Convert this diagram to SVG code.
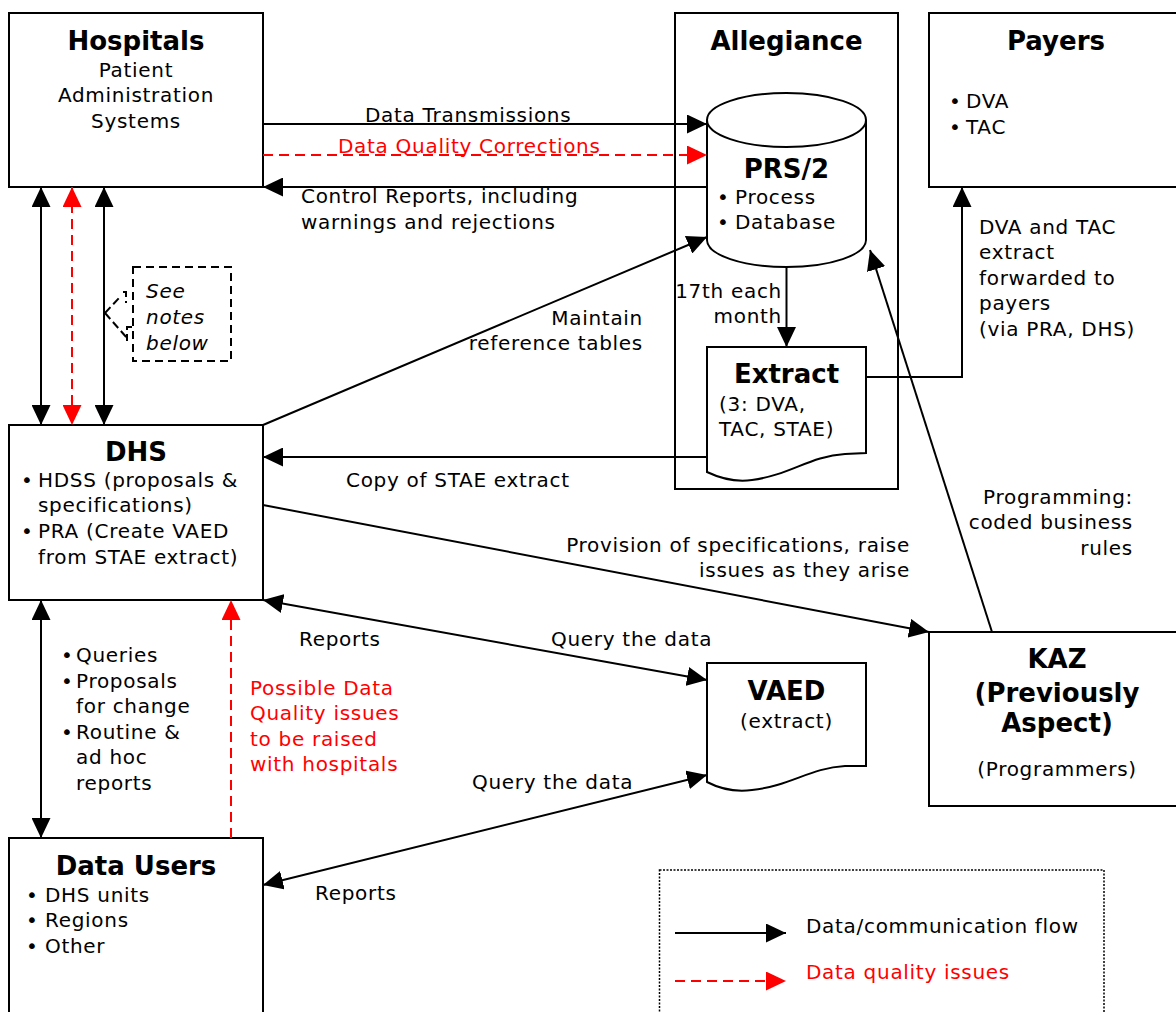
<svg xmlns="http://www.w3.org/2000/svg" width="1176" height="1012" viewBox="0 0 1176 1012">
<defs>
<style>
.t{font-family:"DejaVu Sans",Verdana,sans-serif;font-size:20px;letter-spacing:0.7px;fill:#000}
.b{font-family:"DejaVu Sans",Verdana,sans-serif;font-size:26px;font-weight:bold;fill:#000}
.r{fill:#ff0000}
.m{text-anchor:middle}
.e{text-anchor:end}
.i{font-style:italic}
.box{fill:#fff;stroke:#000;stroke-width:2}
.ln{fill:none;stroke:#000;stroke-width:2}
.rd{fill:none;stroke:#ff0000;stroke-width:2;stroke-dasharray:10 6}
</style>
<marker id="ah" viewBox="0 0 20 19" refX="20" refY="9.5" markerWidth="20" markerHeight="19" markerUnits="userSpaceOnUse" orient="auto-start-reverse"><path d="M0,0 L20,9.5 L0,19 z" fill="#000"/></marker>
<marker id="ahr" viewBox="0 0 20 19" refX="20" refY="9.5" markerWidth="20" markerHeight="19" markerUnits="userSpaceOnUse" orient="auto-start-reverse"><path d="M0,0 L20,9.5 L0,19 z" fill="#ff0000"/></marker>
</defs>
<rect width="1176" height="1012" fill="#fff"/>

<g id="allegiance">
<rect class="box" x="675" y="13" width="223" height="476"/>
<text class="b m" x="786.5" y="50">Allegiance</text>
</g>

<g id="hospitals">
<rect class="box" x="9" y="13" width="254" height="174"/>
<text class="b m" x="136" y="50">Hospitals</text>
<text class="t m" x="136" y="77">Patient</text>
<text class="t m" x="136" y="102">Administration</text>
<text class="t m" x="136" y="128">Systems</text>
</g>

<g id="payers">
<rect class="box" x="929" y="13" width="260" height="174"/>
<text class="b m" x="1056" y="50">Payers</text>
<text class="t" x="949" y="108">•</text><text class="t" x="966" y="108">DVA</text>
<text class="t" x="949" y="134">•</text><text class="t" x="966" y="134">TAC</text>
</g>

<g id="prs2">
<path class="box" d="M707,120 L707,240 A79.5,27 0 0 0 866,240 L866,120"/>
<ellipse class="box" cx="786.5" cy="120" rx="79.5" ry="27"/>
<text class="b m" x="786.5" y="178">PRS/2</text>
<text class="t" x="717" y="204">•</text><text class="t" x="735" y="204">Process</text>
<text class="t" x="717" y="229">•</text><text class="t" x="735" y="229">Database</text>
</g>

<g id="extract">
<path class="box" d="M707,347 L866,347 L866,453 L845,454 C810,456 790,475 752,480 Q730,483 707,472 Z"/>
<text class="b m" x="786.5" y="383">Extract</text>
<text class="t" x="719" y="411">(3: DVA,</text>
<text class="t" x="719" y="436">TAC, STAE)</text>
</g>

<g id="notes">
<rect x="133" y="267" width="98" height="94" fill="none" stroke="#000" stroke-width="2" stroke-dasharray="8 5"/>
<path d="M105,313 L120,297 M123,292 L126,292 L126,303 M105,313 L127,338 M132,327 L127,327 L127,341" fill="none" stroke="#000" stroke-width="2" stroke-dasharray="8 4"/>
<text class="t i" x="146" y="298">See</text>
<text class="t i" x="146" y="324">notes</text>
<text class="t i" x="146" y="350">below</text>
</g>

<g id="dhs">
<rect class="box" x="9" y="425" width="254" height="175"/>
<text class="b m" x="136" y="461">DHS</text>
<text class="t" x="21" y="487">•</text><text class="t" x="38" y="487">HDSS (proposals &amp;</text>
<text class="t" x="38" y="512">specifications)</text>
<text class="t" x="21" y="538">•</text><text class="t" x="38" y="538">PRA (Create VAED</text>
<text class="t" x="38" y="564">from STAE extract)</text>
</g>

<g id="vaed">
<path class="box" d="M707,663 L866,663 L866,766 L845,766 C810,768 790,786 752,790 Q728,793 707,782 Z"/>
<text class="b m" x="786.5" y="700">VAED</text>
<text class="t m" x="786.5" y="728">(extract)</text>
</g>

<g id="kaz">
<rect class="box" x="929" y="632" width="260" height="174"/>
<text class="b m" x="1057" y="668">KAZ</text>
<text class="b m" x="1057" y="702">(Previously</text>
<text class="b m" x="1057" y="732">Aspect)</text>
<text class="t m" x="1057" y="776">(Programmers)</text>
</g>

<g id="datausers">
<rect class="box" x="9" y="838" width="254" height="190"/>
<text class="b m" x="136" y="875">Data Users</text>
<text class="t" x="26" y="902">•</text><text class="t" x="45" y="902">DHS units</text>
<text class="t" x="26" y="927">•</text><text class="t" x="45" y="927">Regions</text>
<text class="t" x="26" y="953">•</text><text class="t" x="45" y="953">Other</text>
</g>

<g id="connectors">
<line class="ln" x1="263" y1="124" x2="707" y2="124" marker-end="url(#ah)"/>
<line class="rd" x1="263" y1="155" x2="707" y2="155" marker-end="url(#ahr)"/>
<line class="ln" x1="707" y1="187" x2="263" y2="187" marker-end="url(#ah)"/>
<line class="ln" x1="263" y1="425" x2="707" y2="237" marker-end="url(#ah)"/>
<line class="ln" x1="786.5" y1="267" x2="786.5" y2="347" marker-end="url(#ah)"/>
<polyline class="ln" points="866,377 962,377 962,187" marker-end="url(#ah)"/>
<line class="ln" x1="707" y1="457" x2="263" y2="457" marker-end="url(#ah)"/>
<line class="ln" x1="263" y1="505" x2="929" y2="632" marker-end="url(#ah)"/>
<line class="ln" x1="992" y1="632" x2="870" y2="250" marker-end="url(#ah)"/>
<line class="ln" x1="263" y1="600" x2="707" y2="680" marker-start="url(#ah)" marker-end="url(#ah)"/>
<line class="ln" x1="263" y1="885" x2="707" y2="775" marker-start="url(#ah)" marker-end="url(#ah)"/>
<line class="ln" x1="41" y1="187" x2="41" y2="425" marker-start="url(#ah)" marker-end="url(#ah)"/>
<line class="rd" x1="72" y1="187" x2="72" y2="425" marker-start="url(#ahr)" marker-end="url(#ahr)"/>
<line class="ln" x1="104" y1="187" x2="104" y2="425" marker-start="url(#ah)" marker-end="url(#ah)"/>
<line class="ln" x1="41" y1="600" x2="41" y2="838" marker-start="url(#ah)" marker-end="url(#ah)"/>
<line class="rd" x1="231" y1="838" x2="231" y2="600" marker-end="url(#ahr)"/>
</g>

<g id="labels">
<text class="t" x="365" y="122">Data Transmissions</text>
<text class="t r" x="338" y="153">Data Quality Corrections</text>
<text class="t" x="301" y="203">Control Reports, including</text>
<text class="t" x="301" y="229">warnings and rejections</text>
<text class="t e" x="643" y="325">Maintain</text>
<text class="t e" x="643" y="350">reference tables</text>
<text class="t e" x="782" y="298">17th each</text>
<text class="t e" x="782" y="323">month</text>
<text class="t" x="979" y="234">DVA and TAC</text>
<text class="t" x="979" y="259">extract</text>
<text class="t" x="979" y="285">forwarded to</text>
<text class="t" x="979" y="310">payers</text>
<text class="t" x="979" y="336">(via PRA, DHS)</text>
<text class="t" x="346" y="487">Copy of STAE extract</text>
<text class="t e" x="1133" y="504">Programming:</text>
<text class="t e" x="1133" y="529">coded business</text>
<text class="t e" x="1133" y="555">rules</text>
<text class="t e" x="910" y="552">Provision of specifications, raise</text>
<text class="t e" x="910" y="577">issues as they arise</text>
<text class="t" x="299" y="646">Reports</text>
<text class="t" x="551" y="646">Query the data</text>
<text class="t" x="61" y="662">•</text><text class="t" x="76" y="662">Queries</text>
<text class="t" x="61" y="688">•</text><text class="t" x="76" y="688">Proposals</text>
<text class="t" x="76" y="713">for change</text>
<text class="t" x="61" y="739">•</text><text class="t" x="76" y="739">Routine &amp;</text>
<text class="t" x="76" y="764">ad hoc</text>
<text class="t" x="76" y="790">reports</text>
<text class="t r" x="250" y="695">Possible Data</text>
<text class="t r" x="250" y="720">Quality issues</text>
<text class="t r" x="250" y="746">to be raised</text>
<text class="t r" x="250" y="771">with hospitals</text>
<text class="t" x="472" y="789">Query the data</text>
<text class="t" x="315" y="900">Reports</text>
</g>

<g id="legend">
<rect x="659.5" y="870" width="444.5" height="160" fill="none" stroke="#000" stroke-width="1.5" stroke-dasharray="2 1.5"/>
<line class="ln" x1="675" y1="933" x2="786" y2="933" marker-end="url(#ah)"/>
<line class="rd" x1="675" y1="981" x2="786" y2="981" marker-end="url(#ahr)"/>
<text class="t" x="806" y="933">Data/communication flow</text>
<text class="t r" x="806" y="979">Data quality issues</text>
</g>
</svg>
